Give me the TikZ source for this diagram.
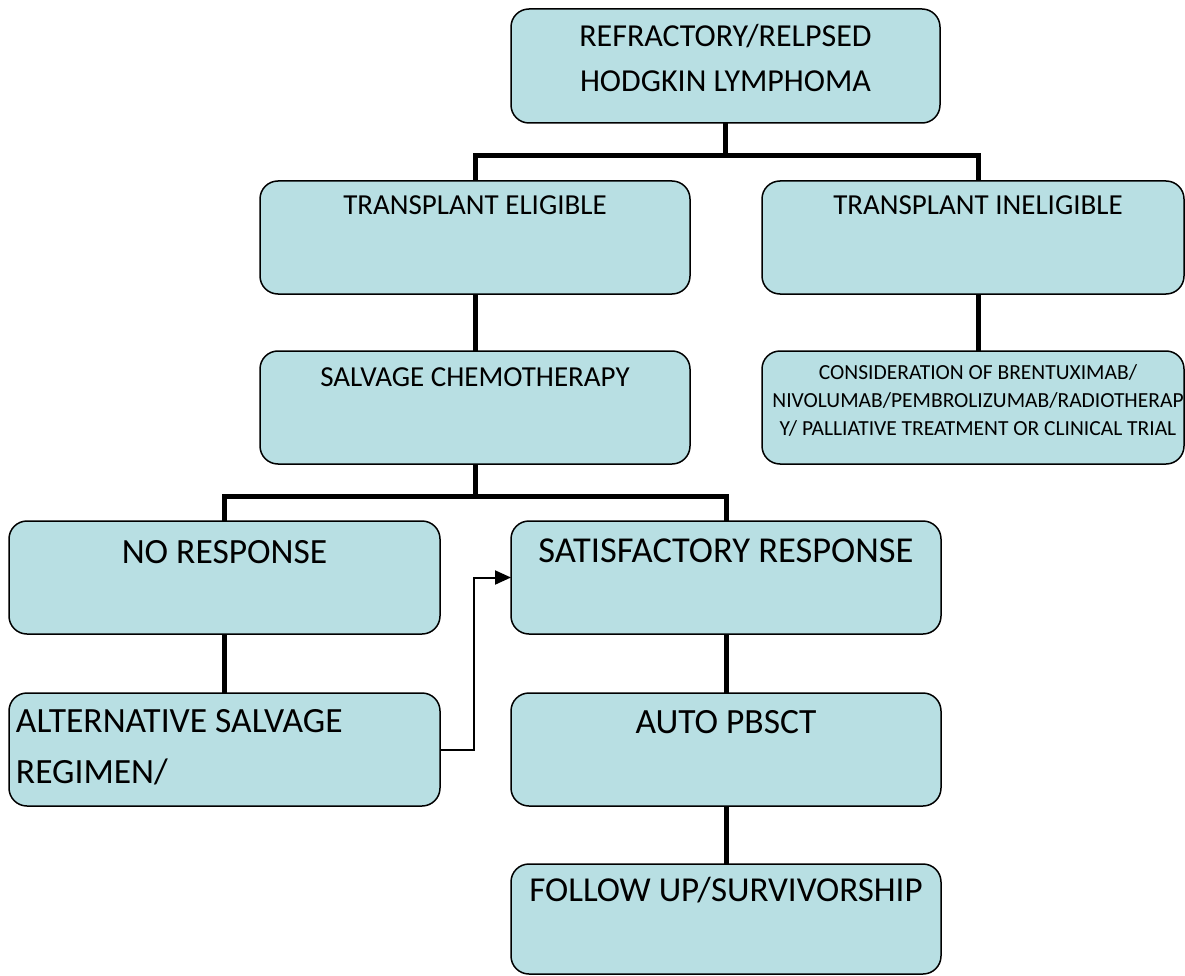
\documentclass[tikz,border=0pt]{standalone}
\usepackage{fontspec}
\setmainfont{Carlito}
\usetikzlibrary{arrows.meta}
\definecolor{stagefill}{HTML}{B8DFE3}
% width, height, format, first baseline, text
\newcommand{\boxtext}[5]{\parbox[c][#2pt][t]{#1pt}{#3\rule{0pt}{#4pt}#5}}
\tikzset{
  stage/.style={draw=black, line width=1.5pt, rounded corners=18pt, fill=stagefill,
    inner sep=0pt, outer sep=0pt, anchor=north west},
  branch/.style={line width=5pt},
  jump/.style={line width=2pt, -{Triangle[length=16pt,width=14pt]}}
}

\begin{document}
\begin{tikzpicture}[x=1pt,y=-1pt]
  \useasboundingbox (0,0) rectangle (1185,976);
  \node[stage] (relapse) at (511,9) {\boxtext{429}{114}{\centering\fontsize{32}{45}\selectfont}{38}{REFRACTORY/RELPSED\\HODGKIN LYMPHOMA}};
  \node[stage] (elig) at (260,181) {\boxtext{430}{113}{\centering\fontsize{29}{35}\selectfont}{34}{TRANSPLANT ELIGIBLE}};
  \node[stage] (inelig) at (762,181) {\boxtext{422}{113}{\centering\leftskip=10pt plus 1fil\fontsize{29}{35}\selectfont}{34}{TRANSPLANT INELIGIBLE}};
  \node[stage] (salvage) at (260,351) {\boxtext{430}{113}{\centering\fontsize{29}{35}\selectfont}{35}{SALVAGE CHEMOTHERAPY}};
  \node[stage] (consid) at (762,351) {\boxtext{422}{113}{\centering\leftskip=10pt plus 1fil\fontsize{21.5}{28}\selectfont}{28.3}{CONSIDERATION OF BRENTUXIMAB/\\NIVOLUMAB/PEMBROLIZUMAB/RADIOTHERAP\\Y/ PALLIATIVE TREATMENT OR CLINICAL TRIAL}};
  \node[stage] (nores) at (9,521) {\boxtext{431}{113}{\centering\fontsize{35.5}{43}\selectfont}{42}{NO RESPONSE}};
  \node[stage] (satis) at (511,521) {\boxtext{430}{113}{\centering\fontsize{36.5}{43}\selectfont}{41.7}{SATISFACTORY RESPONSE}};
  \node[stage] (alt) at (9,693) {\boxtext{431}{113}{\raggedright\leftskip=7pt\fontsize{35.5}{51}\selectfont}{39}{ALTERNATIVE SALVAGE\\REGIMEN/}};
  \node[stage] (auto) at (511,693) {\boxtext{430}{113}{\centering\fontsize{35.5}{43}\selectfont}{40}{AUTO PBSCT}};
  \node[stage] (follow) at (511,864) {\boxtext{430}{110}{\centering\fontsize{35}{43}\selectfont}{37.7}{FOLLOW UP/SURVIVORSHIP}};

  \draw[branch] (relapse.south) -- ++(0,32.5) -| (elig.north);
  \draw[branch] (relapse.south) -- ++(0,32.5) -| ([xshift=5pt]inelig.north);
  \draw[branch] (elig.south) -- (salvage.north);
  \draw[branch] ([xshift=5pt]inelig.south) -- ([xshift=5pt]consid.north);
  \draw[branch] (salvage.south) -- ++(0,32.5) -| (nores.north);
  \draw[branch] (salvage.south) -- ++(0,32.5) -| (satis.north);
  \draw[branch] (nores.south) -- (alt.north);
  \draw[branch] (satis.south) -- (auto.north);
  \draw[branch] (auto.south) -- (follow.north);
  \draw[jump] (alt.east) -- ++(34,0) |- (satis.west);
\end{tikzpicture}
\end{document}
